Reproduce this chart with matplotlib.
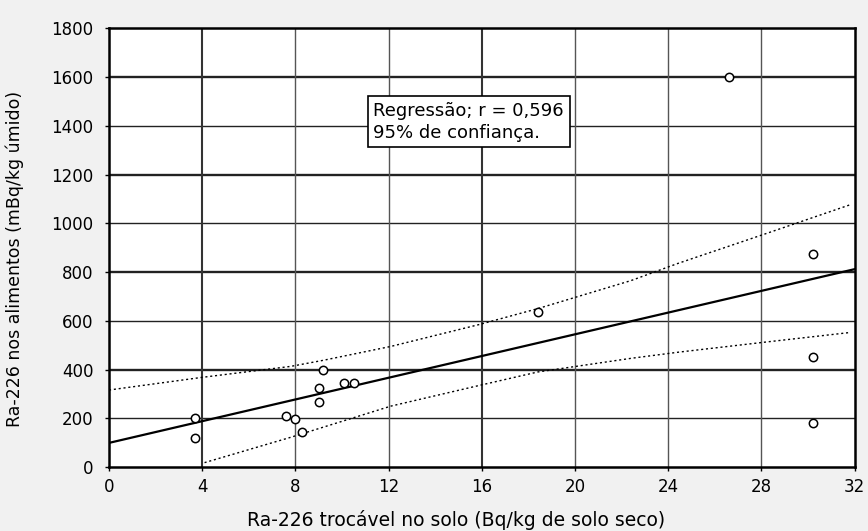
import numpy as np
import matplotlib
matplotlib.use("Agg")
import matplotlib.pyplot as plt

plt.rcParams['font.family'] = ['DejaVu Sans']

# pontos medidos (solo x alimento)
solo = [3.7, 3.7, 7.6, 8.0, 8.3, 9.0, 9.0, 9.2, 10.1, 10.5, 18.4, 26.6, 30.2, 30.2, 30.2]
alimento = [200, 120, 210, 195, 145, 325, 265, 398, 345, 345, 637, 1600, 875, 452, 181]

# reta de regressao (extremos)
reta_x = [0, 32]
reta_y = [99, 812]

# limites de confianca de 95%
sup_x = [0, 4, 7.8, 9.2, 12.1, 15.9, 18.4, 22.4, 24.4, 28.2, 31.8]
sup_y = [316, 368, 413, 438, 495, 585, 650, 765, 835, 958, 1076]
inf_x = [4.1, 7.8, 12.1, 15.9, 18.4, 22.4, 24.5, 28.2, 31.8]
inf_y = [18, 122, 250, 335, 390, 446, 472, 513, 552]

fig = plt.figure(figsize=(8.68, 5.31), dpi=100, facecolor='#f1f1f1')
ax = fig.add_axes([0.1256, 0.1205, 0.859, 0.826])
ax.set_facecolor('white')

# grade
for v in range(200, 1800, 200):
    ax.axhline(v, color='#222222', lw=1.7 if v % 400 == 0 else 1.0, zorder=1)
for v in range(4, 32, 4):
    ax.axvline(v, color='#333333' if v in (4, 16) else '#555555',
               lw=1.5 if v in (4, 16) else 1.0, zorder=1)

ax.plot(reta_x, reta_y, color='black', lw=1.6, zorder=3)
ax.plot(sup_x, sup_y, color='black', lw=1.0, ls=(0, (1.5, 2)), zorder=3)
ax.plot(inf_x, inf_y, color='black', lw=1.0, ls=(0, (1.5, 2)), zorder=3)
ax.plot(solo, alimento, 'o', mfc='white', mec='black', mew=1.1, ms=6, zorder=4)

ax.set_xlim(0, 32)
ax.set_ylim(0, 1800)
ax.set_xticks(range(0, 33, 4))
ax.set_yticks(range(0, 1801, 200))
ax.tick_params(labelsize=12, length=3, width=1)
ax.tick_params(axis='y', pad=8)
ax.tick_params(axis='x', pad=5)
for s in ax.spines.values():
    s.set_linewidth(1.8)

ax.set_xlabel('Ra-226 trocável no solo (Bq/kg de solo seco)', fontsize=13.5)
ax.xaxis.set_label_coords(0.466, -0.098)
ax.set_ylabel('Ra-226 nos alimentos (mBq/kg úmido)', fontsize=12.5)
ax.yaxis.set_label_coords(-0.114, 0.475)

ax.text(11.35, 1500, 'Regressão; r = 0,596\n95% de confiança.', fontsize=13,
        va='top', ha='left', linespacing=1.3, zorder=5,
        bbox=dict(boxstyle='square,pad=0.3', fc='white', ec='black', lw=1.2))

fig.savefig('out.png', dpi=100, facecolor=fig.get_facecolor())
